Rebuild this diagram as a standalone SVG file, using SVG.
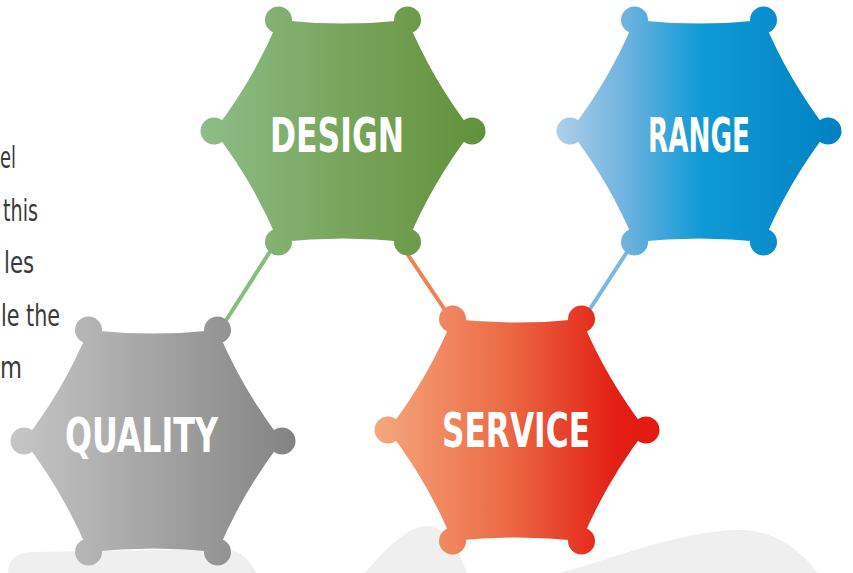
<svg xmlns="http://www.w3.org/2000/svg" xmlns:xlink="http://www.w3.org/1999/xlink" width="853" height="573" viewBox="0 0 853 573">
  <defs>
    <linearGradient id="gDesign" gradientUnits="userSpaceOnUse" x1="-143" y1="0" x2="143" y2="0">
      <stop offset="0" stop-color="#8fbd8a"/>
      <stop offset="0.5" stop-color="#78a55c"/>
      <stop offset="1" stop-color="#63903a"/>
    </linearGradient>
    <linearGradient id="gRange" gradientUnits="userSpaceOnUse" x1="-143" y1="0" x2="143" y2="0">
      <stop offset="0" stop-color="#b0cfea"/>
      <stop offset="0.25" stop-color="#6cb2de"/>
      <stop offset="0.5" stop-color="#109bd6"/>
      <stop offset="1" stop-color="#0081c2"/>
    </linearGradient>
    <linearGradient id="gQuality" gradientUnits="userSpaceOnUse" x1="-143" y1="0" x2="143" y2="0">
      <stop offset="0" stop-color="#c6c6c6"/>
      <stop offset="1" stop-color="#838383"/>
    </linearGradient>
    <linearGradient id="gService" gradientUnits="userSpaceOnUse" x1="-143" y1="0" x2="143" y2="0">
      <stop offset="0" stop-color="#f5a87f"/>
      <stop offset="0.45" stop-color="#ec6c47"/>
      <stop offset="0.85" stop-color="#e31e14"/>
      <stop offset="1" stop-color="#e31a12"/>
    </linearGradient>
    <g id="hexShape">
      <path d="M -129 0 Q -89.2 -51.5 -64.5 -111 Q 0 -104 64.5 -111 Q 89.2 -51.5 129 0 Q 89.2 51.5 64.5 111 Q 0 104 -64.5 111 Q -89.2 51.5 -129 0 Z"/>
      <circle cx="-129" cy="0" r="13.5"/>
      <circle cx="-64.5" cy="-111" r="13.5"/>
      <circle cx="64.5" cy="-111" r="13.5"/>
      <circle cx="129" cy="0" r="13.5"/>
      <circle cx="64.5" cy="111" r="13.5"/>
      <circle cx="-64.5" cy="111" r="13.5"/>
    </g>
  </defs>
  <style>
    .blob { fill: #efefef; }
    .side { font-family: "Liberation Sans Narrow", "DejaVu Sans Condensed", "DejaVu Sans", sans-serif; font-stretch: condensed; font-size: 31px; fill: #3a3a3a; }
    .label { font-family: "Liberation Sans Narrow", "DejaVu Sans Condensed", "Liberation Sans", sans-serif; font-weight: bold; font-size: 48px; fill: #ffffff; text-anchor: middle; }
    .conn { stroke-width: 4; stroke-linecap: round; fill: none; }
  </style>

  <g id="background">
    <path class="blob" d="M 8 573 Q 8 553 32 552 L 228 549 Q 246 552 256 573 Z"/>
    <path class="blob" d="M 365 573 C 388 546 408 526 428 526 C 448 527 458 550 467 573 Z"/>
    <path class="blob" d="M 560 573 C 600 563 680 530 740 530 C 775 530 800 550 818 573 Z"/>
  </g>

  <g id="side-text">
    <text class="side" x="0" y="168" textLength="16" lengthAdjust="spacingAndGlyphs">el</text>
    <text class="side" x="3" y="221" textLength="35" lengthAdjust="spacingAndGlyphs">this</text>
    <text class="side" x="4" y="273" textLength="30" lengthAdjust="spacingAndGlyphs">les</text>
    <text class="side" x="1" y="326" textLength="59" lengthAdjust="spacingAndGlyphs">le the</text>
    <text class="side" x="0" y="378" textLength="22" lengthAdjust="spacingAndGlyphs">m</text>
  </g>

  <g id="connectors">
    <line class="conn" stroke="#86bd7e" x1="271" y1="250" x2="225" y2="322"/>
    <line class="conn" stroke="#ef8155" x1="408" y1="255" x2="447" y2="313"/>
    <line class="conn" stroke="#7ab8e0" x1="627" y1="252" x2="588" y2="312"/>
  </g>

  <g id="node-design" transform="translate(343,131)">
    <use xlink:href="#hexShape" fill="url(#gDesign)"/>
    <text class="label" x="-6" y="21" textLength="134" lengthAdjust="spacingAndGlyphs">DESIGN</text>
  </g>

  <g id="node-range" transform="translate(699,131)">
    <use xlink:href="#hexShape" fill="url(#gRange)"/>
    <text class="label" x="0" y="21" textLength="102" lengthAdjust="spacingAndGlyphs">RANGE</text>
  </g>

  <g id="node-quality" transform="translate(153,441)">
    <use xlink:href="#hexShape" fill="url(#gQuality)"/>
    <text class="label" x="-11.5" y="11" textLength="153" lengthAdjust="spacingAndGlyphs">QUALITY</text>
  </g>

  <g id="node-service" transform="translate(517,430)">
    <use xlink:href="#hexShape" fill="url(#gService)"/>
    <text class="label" x="-1" y="17" textLength="148" lengthAdjust="spacingAndGlyphs">SERVICE</text>
  </g>
</svg>
